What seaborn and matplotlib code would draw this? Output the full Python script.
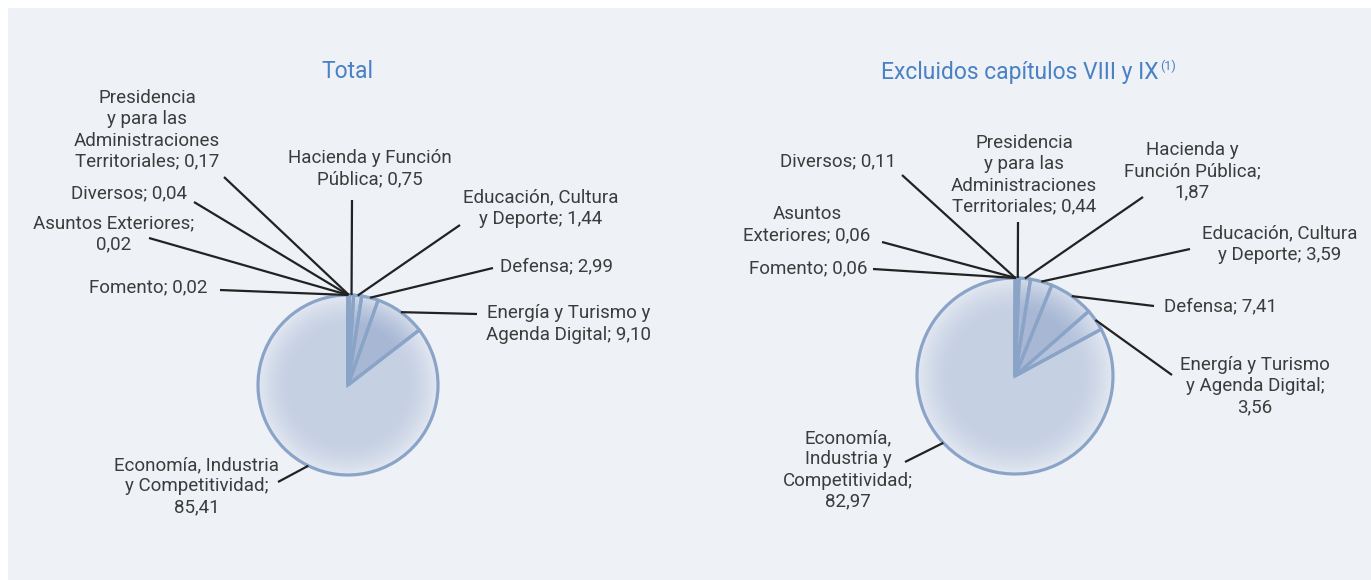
import numpy as np
import matplotlib
matplotlib.use("Agg")
import matplotlib.pyplot as plt
import seaborn as sns
from matplotlib.patches import Circle, Rectangle

# ---------------- data ----------------
total_names = ["Fomento", "Asuntos Exteriores", "Diversos",
               "Presidencia y para las Administraciones Territoriales",
               "Hacienda y Función Pública", "Educación, Cultura y Deporte",
               "Defensa", "Energía y Turismo y Agenda Digital",
               "Economía, Industria y Competitividad"]
total_values = [0.02, 0.02, 0.04, 0.17, 0.75, 1.44, 2.99, 9.10, 85.41]
total_label_fmt = ["Fomento; {v}", "Asuntos Exteriores;\n{v}", "Diversos; {v}",
                   "Presidencia\ny para las\nAdministraciones\nTerritoriales; {v}",
                   "Hacienda y Función\nPública; {v}",
                   "Educación, Cultura\ny Deporte; {v}",
                   "Defensa; {v}",
                   "Energía y Turismo y\nAgenda Digital; {v}",
                   "Economía, Industria\ny Competitividad;\n{v}"]

excl_names = ["Diversos", "Asuntos Exteriores", "Fomento",
              "Presidencia y para las Administraciones Territoriales",
              "Hacienda y Función Pública", "Educación, Cultura y Deporte",
              "Defensa", "Energía y Turismo y Agenda Digital",
              "Economía, Industria y Competitividad"]
excl_values = [0.11, 0.06, 0.06, 0.44, 1.87, 3.59, 7.41, 3.56, 82.97]
excl_label_fmt = ["Diversos; {v}", "Asuntos\nExteriores; {v}", "Fomento; {v}",
                  "Presidencia\ny para las\nAdministraciones\nTerritoriales; {v}",
                  "Hacienda y\nFunción Pública;\n{v}",
                  "Educación, Cultura\ny Deporte; {v}",
                  "Defensa; {v}",
                  "Energía y Turismo\ny Agenda Digital;\n{v}",
                  "Economía,\nIndustria y\nCompetitividad;\n{v}"]

titles = ["Total", "Excluidos capítulos VIII y IX"]
title_note = "(1)"

# ---------------- style ----------------
sns.set_theme(style="white")
plt.rcParams['font.family'] = ['Roboto', 'DejaVu Sans']

BG = "#eef1f6"
EDGE = "#8aa4c8"
LINE = "#222222"
TXT = "#3c3c3c"
TITLE = "#4a80c4"
FS = 13.5

W, H = 1371, 580
fig = plt.figure(figsize=(W / 100, H / 100), dpi=100)
fig.patch.set_facecolor("white")
ax = fig.add_axes([0, 0, 1, 1])
ax.set_axis_off()
ax.add_patch(Rectangle((8, 8), W, H, facecolor=BG, edgecolor="none",
                       zorder=0, clip_on=False))


def fmt(v):
    return f"{v:.2f}".replace(".", ",")


def draw_pie(values, colors, cx, cy, r, label_fmt, layout, anchor_override):
    ax.pie(values, colors=colors, startangle=-90, counterclock=True,
           center=(cx, cy), radius=r, frame=True,
           wedgeprops=dict(edgecolor="none", linewidth=0, zorder=1))
    n = 400
    yy, xx = np.mgrid[-1:1:n * 1j, -1:1:n * 1j]
    rr = np.sqrt(xx ** 2 + yy ** 2)
    alpha = np.clip((rr - 0.62) / (0.99 - 0.62), 0, 1) ** 1.7 * 0.5
    img = np.zeros((n, n, 4))
    img[..., :3] = 1.0
    img[..., 3] = alpha
    im = ax.imshow(img, extent=(cx - r, cx + r, cy + r, cy - r), zorder=2,
                   interpolation="bilinear")
    im.set_clip_path(Circle((cx, cy), r, transform=ax.transData))
    ax.pie(values, startangle=-90, counterclock=True, center=(cx, cy),
           radius=r, frame=True,
           wedgeprops=dict(facecolor="none", edgecolor=EDGE, linewidth=2.3, zorder=3))

    total = float(np.sum(values))
    cum = np.concatenate([[0], np.cumsum(values)[:-1]])
    mids = 360.0 * (cum + np.array(values) / 2) / total
    for i, (v, f) in enumerate(zip(values, label_fmt)):
        tx, ty, lx, ly = layout[i]
        phi = np.deg2rad(anchor_override.get(i, mids[i]))
        ax0 = cx + r * np.sin(phi)
        ay0 = cy - r * np.cos(phi)
        ax.plot([ax0, lx], [ay0, ly], color=LINE, lw=1.6,
                solid_capstyle="butt", zorder=4)
        ax.text(tx, ty, f.format(v=fmt(v)), ha="center", va="center",
                multialignment="center", fontsize=FS, color=TXT,
                linespacing=1.22, zorder=5)


# layout: text centre x, text centre y, outer end of leader line (pixels)
total_layout = [
    (148, 287, 220, 290),
    (114, 234, 149, 238),
    (129, 193, 194, 202),
    (147, 130, 224, 177),
    (370, 169, 352, 200),
    (541, 208, 460, 225),
    (556, 266, 493, 268),
    (569, 324, 477, 314),
    (197, 486, 278, 482),
]
excl_layout = [
    (838, 161, 902, 175),
    (807, 225, 882, 242),
    (808, 268, 873, 269),
    (1024, 175, 1018, 222),
    (1192, 171, 1143, 197),
    (1280, 244, 1190, 249),
    (1221, 306, 1154, 306),
    (1255, 386, 1172, 375),
    (848, 470, 905, 462),
]

c_small = "#a7b7d4"
c_big = "#c5d0e3"
total_colors = [c_small] * 8 + [c_big]
excl_colors = [c_small] * 7 + ["#b4c2dc", c_big]

draw_pie(total_values, total_colors, 348, 385, 90, total_label_fmt,
         total_layout, {})
draw_pie(excl_values, excl_colors, 1015, 376, 98, excl_label_fmt,
         excl_layout, {8: 227})

ax.set_xlim(0, W)
ax.set_ylim(H, 0)
ax.set_aspect("auto")

ax.text(347, 72, titles[0], ha="center", va="center", fontsize=16.5, color=TITLE)
t2 = ax.text(1020, 72, titles[1], ha="center", va="center", fontsize=16.5,
             color=TITLE)
fig.canvas.draw()
bb = t2.get_window_extent(renderer=fig.canvas.get_renderer())
x_right = ax.transData.inverted().transform((bb.x1, bb.y1))[0]
ax.text(x_right + 1, 66, title_note, ha="left", va="center", fontsize=9,
        color=TITLE)

fig.savefig("out.png", dpi=100, facecolor=fig.get_facecolor())
